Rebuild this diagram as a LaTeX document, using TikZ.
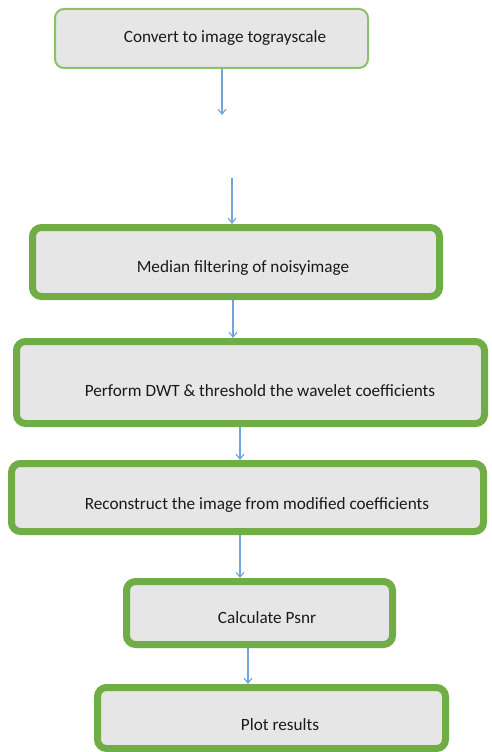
\documentclass[tikz,border=0pt]{standalone}
\usepackage{fontspec}
\setmainfont{Carlito}
\usetikzlibrary{arrows.meta}
\definecolor{boxgreen}{HTML}{70AD47}
\definecolor{lightgreen}{HTML}{8CC168}
\definecolor{boxfill}{HTML}{E6E6E6}
\definecolor{arrowblue}{HTML}{6FA5DB}
\definecolor{txt}{HTML}{1A1A1A}
\begin{document}
\begin{tikzpicture}[x=1pt,y=1pt,
  stepbox/.style={draw=boxgreen, line width=7pt, fill=boxfill, rounded corners=9pt, inner sep=0pt},
  firstbox/.style={draw=lightgreen, line width=2pt, fill=boxfill, rounded corners=9pt, inner sep=0pt},
  steptext/.style={text=txt, font=\fontsize{17.2}{20}\selectfont, inner sep=0pt},
  flow/.style={draw=arrowblue, line width=1.1pt, -{Straight Barb[length=5pt,width=8pt,line width=1.1pt]}}]
\useasboundingbox (0,0) rectangle (491,-752);
\node[firstbox, minimum width=313pt, minimum height=59pt] (b1) at (211.5,-38.5) {};
\node[stepbox, minimum width=407pt, minimum height=69pt] (b2) at (236,-262) {};
\node[stepbox, minimum width=468pt, minimum height=82pt] (b3) at (250.5,-382.5) {};
\node[stepbox, minimum width=472pt, minimum height=68pt] (b4) at (247.5,-497.5) {};
\node[stepbox, minimum width=266pt, minimum height=63pt] (b5) at (259.5,-613) {};
\node[stepbox, minimum width=348pt, minimum height=61pt] (b6) at (271.5,-718) {};
\node[steptext] (t1) at (225,-38) {Convert to image tograyscale};
\node[steptext] (t2) at (243,-268) {Median filtering of noisyimage};
\node[steptext] (t3) at (260,-391) {Perform DWT \& threshold the wavelet coefficients};
\node[steptext] (t4) at (257,-505) {Reconstruct the image from modified coefficients};
\node[steptext] (t5) at (267,-618) {Calculate Psnr};
\node[steptext] (t6) at (280,-725) {Plot results};
\coordinate (e1) at (222,-115);
\coordinate (s2) at (232,-178);
\draw[flow] ([xshift=10.5pt]b1.south) -- (e1);
\draw[flow] (s2) -- ([xshift=-4pt]b2.north);
\draw[flow] ([xshift=-3pt]b2.south) -- ([xshift=-17.5pt]b3.north);
\draw[flow] ([xshift=-10.5pt]b3.south) -- ([xshift=-7.5pt]b4.north);
\draw[flow] ([xshift=-7.5pt]b4.south) -- ([xshift=-19.5pt]b5.north);
\draw[flow] ([xshift=-11.5pt]b5.south) -- ([xshift=-23.5pt]b6.north);
\end{tikzpicture}
\end{document}
